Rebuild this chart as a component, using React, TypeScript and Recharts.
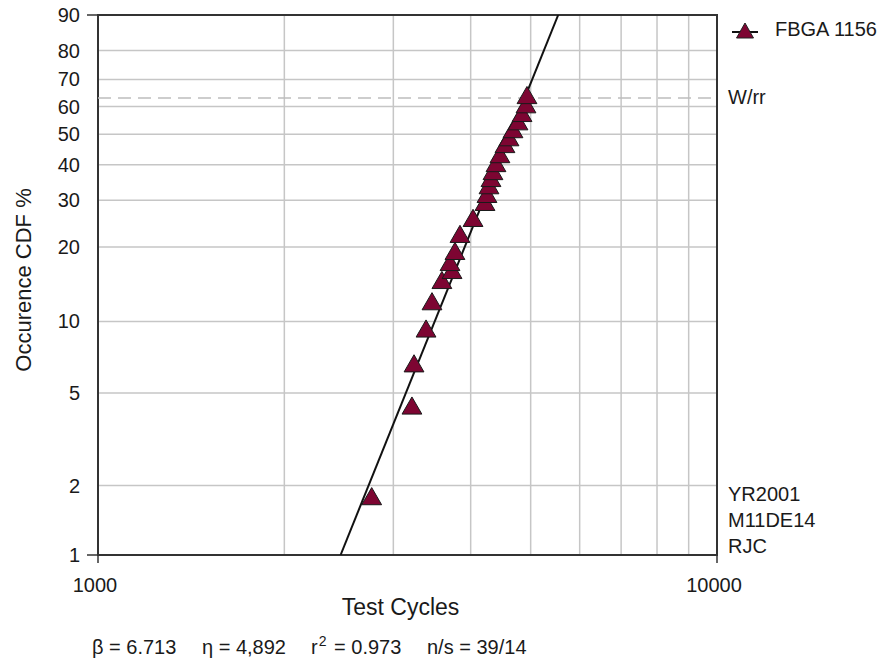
import { ComposedChart, Scatter, Line, XAxis, YAxis, ZAxis, CartesianGrid, ReferenceLine, ReferenceArea, Legend } from 'recharts'

const FONT = '"Liberation Sans", Arial, Helvetica, sans-serif'
const INK = '#1a1a1a'
const FRAME = '#333333'
const GRID = '#c6c6c6'
const MARKER = '#7d0532'

// Weibull fit (rank regression)
const BETA = 6.713
const ETA = 4892

// failures: test cycles and occurrence CDF (%)
const failureCycles = [
  2768, 3215, 3240, 3388, 3464, 3594, 3732, 3704, 3773, 3844, 4035, 4219, 4250,
  4282, 4314, 4346, 4395, 4460, 4544, 4613, 4682, 4770, 4842, 4914, 4932,
]
const failureCdf = [
  1.75, 4.3, 6.5, 9.1, 11.8, 14.4, 15.8, 17.0, 18.8, 21.9, 25.2, 28.9, 30.9,
  33.2, 35.2, 37.2, 39.6, 42.4, 45.7, 48.0, 50.8, 53.6, 56.6, 59.8, 63.2,
]

const cycleTicks = [1000, 2000, 3000, 4000, 5000, 6000, 7000, 8000, 9000, 10000]
const cdfTicks = [1, 2, 5, 10, 20, 30, 40, 50, 60, 70, 80, 90]
const cornerNotes = ['YR2001', 'M11DE14', 'RJC']
const statLabels = ['β = 6.713', 'η = 4,892', 'r2 = 0.973', 'n/s = 39/14']

// Weibull paper: y = ln(-ln(1 - F))
const wb = (pct: number) => Math.log(-Math.log(1 - pct / 100))
const fromWb = (v: number) => (1 - Math.exp(-Math.exp(v))) * 100
const fitCycles = (pct: number) => ETA * Math.pow(-Math.log(1 - pct / 100), 1 / BETA)

const points = failureCycles.map((c, i) => ({ x: c, y: wb(failureCdf[i]) }))
const fitLine = [cdfTicks[0], cdfTicks[cdfTicks.length - 1]].map(p => ({ x: fitCycles(p), y: wb(p) }))
const yDomain = [wb(cdfTicks[0]), wb(cdfTicks[cdfTicks.length - 1])]

const XTick = ({ x, y, payload }: any) => {
  const v = payload.value
  if (v !== 1000 && v !== 10000) return <g />
  return (
    <g>
      <line x1={x} x2={x} y1={y} y2={y + 8} stroke={FRAME} strokeWidth={1.5} />
      <text x={x - 3} y={y + 37} textAnchor="middle" fontSize={20} fontFamily={FONT} fill={INK}>
        {v}
      </text>
    </g>
  )
}

const YTick = ({ x, y, payload }: any) => {
  const pct = Math.round(fromWb(payload.value))
  const edge = pct === 1 || pct === 90
  return (
    <g>
      {edge && <line x1={x - 11} x2={x} y1={y} y2={y} stroke={FRAME} strokeWidth={1.5} />}
      <text x={x - 18} y={y + 7} textAnchor="end" fontSize={20} fontFamily={FONT} fill={INK}>
        {pct}
      </text>
    </g>
  )
}

const renderYTitle = ({ viewBox }: any) => {
  const cx = 23
  const cy = viewBox.y + viewBox.height / 2 - 5
  return (
    <text x={cx} y={cy} transform={`rotate(-90 ${cx} ${cy})`} textAnchor="middle" dominantBaseline="central"
      fontSize={22} fontFamily={FONT} fill={INK}>
      Occurence CDF %
    </text>
  )
}

const renderXTitle = ({ viewBox }: any) => (
  <text x={viewBox.x + viewBox.width / 2 - 7} y={viewBox.y + 60} textAnchor="middle" fontSize={23} fontFamily={FONT} fill={INK}>
    Test Cycles
  </text>
)

const renderWrr = ({ viewBox }: any) => (
  <text x={viewBox.x + viewBox.width + 11} y={viewBox.y + 6} fontSize={20} fontFamily={FONT} fill={INK}>
    W/rr
  </text>
)

// corner notes and fit statistics, placed off the plot frame
const statX = [92, 202, 311, 427]
const renderNotes = ({ viewBox }: any) => {
  const right = viewBox.x + viewBox.width + 11
  const bottom = viewBox.y + viewBox.height
  return (
    <g fontFamily={FONT} fontSize={20} fill={INK}>
      {cornerNotes.map((t, i) => (
        <text key={t} x={right} y={bottom - 54 + i * 26}>{t}</text>
      ))}
      {statLabels.map((s, i) => {
        if (s.startsWith('r2')) {
          return (
            <text key={s} x={statX[i]} y={654}>
              r<tspan fontSize={14} dy={-8} dx={1}>2</tspan><tspan dy={8} dx={2}>{s.slice(2)}</tspan>
            </text>
          )
        }
        return <text key={s} x={statX[i]} y={654}>{s}</text>
      })}
    </g>
  )
}

const renderLegend = () => (
  <div style={{ display: 'flex', alignItems: 'center', fontFamily: FONT, fontSize: 20, color: INK, whiteSpace: 'nowrap' }}>
    <svg width={28} height={20}>
      <line x1={1} x2={27} y1={12} y2={12} stroke="#111" strokeWidth={2} />
      <polygon points="14,3 22.5,18 5.5,18" fill={MARKER} stroke="#222" strokeWidth={1} />
    </svg>
    <span style={{ marginLeft: 16 }}>FBGA 1156</span>
  </div>
)

export default function App() {
  return (
    <div style={{ position: 'absolute', top: 0, left: 0, background: '#fff' }}>
      <ComposedChart width={889} height={659} margin={{ top: 15, right: 172, bottom: 0, left: 0 }}>
        <CartesianGrid stroke={GRID} strokeWidth={1.5} />
        <XAxis
          dataKey="x"
          type="number"
          scale="log"
          domain={[1000, 10000]}
          ticks={cycleTicks}
          interval={0}
          allowDataOverflow
          axisLine={false}
          tickLine={false}
          tickSize={0}
          tickMargin={0}
          height={104}
          tick={<XTick />}
          label={{ content: renderXTitle }}
        />
        <YAxis
          dataKey="y"
          type="number"
          domain={yDomain}
          ticks={cdfTicks.map(wb)}
          interval={0}
          allowDataOverflow
          axisLine={false}
          tickLine={false}
          tickSize={0}
          tickMargin={0}
          width={98}
          tick={<YTick />}
          label={{ content: renderYTitle }}
        />
        <ZAxis range={[170, 170]} />
        <ReferenceLine y={0} stroke="#bdbdbd" strokeWidth={1.5} strokeDasharray="13 7" label={{ content: renderWrr }} />
        <Line data={fitLine} dataKey="y" stroke="#111" strokeWidth={2} dot={false} isAnimationActive={false} legendType="none" />
        <Scatter data={points} shape="triangle" fill={MARKER} stroke="#1a1a1a" strokeWidth={1} isAnimationActive={false} />
        <ReferenceArea
          x1={1000}
          x2={10000}
          y1={yDomain[0]}
          y2={yDomain[1]}
          fill="none"
          stroke={FRAME}
          strokeWidth={2}
          label={{ content: renderNotes }}
        />
        <Legend
          layout="vertical"
          align="center"
          verticalAlign="middle"
          content={renderLegend}
          wrapperStyle={{ top: 18, left: 731, width: 'auto' }}
        />
      </ComposedChart>
    </div>
  )
}
